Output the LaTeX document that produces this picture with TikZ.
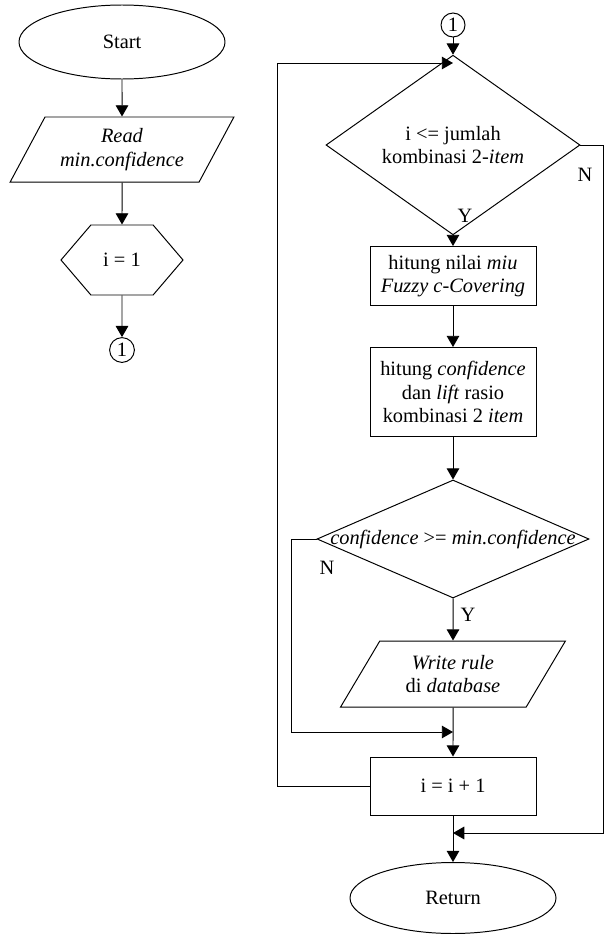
\documentclass[tikz,border=0pt]{standalone}
\usepackage{fontspec}
\setmainfont{Liberation Serif}
\usetikzlibrary{arrows.meta,shapes.geometric,shapes.symbols}
\tikzset{
	terminal/.style={draw, ellipse, minimum width=5.15cm, minimum height=1.85cm},
	io/.style={draw, trapezium, trapezium left angle=56, trapezium right angle=124, trapezium stretches=true, minimum width=5.6cm, minimum height=1.63cm, align=center, inner sep=0pt},
	prep/.style={draw, signal, signal to=west and east, signal pointer angle=99, minimum width=3.05cm, minimum height=1.75cm},
	process/.style={draw, rectangle, minimum width=4.15cm, align=center},
	decision/.style={draw, diamond, inner sep=0pt, align=center},
	connector/.style={draw, circle, inner sep=0pt, minimum size=0.62cm},
	flow/.style={-{Triangle[length=8pt, width=9pt]}}
}
\begin{document}
\begin{tikzpicture}[line width=0.7pt, font=\fontsize{14.5}{16.5}\selectfont]
	\useasboundingbox (0,0) rectangle (15.1,-23.35);
	% left column
	\node[terminal] at (3.05,-1.05) (start) {Start};
	\node[io] at (3.05,-3.74) (read-conf) {\textit{Read}\\\textit{min.confidence}};
	\node[prep] at (3.05,-6.5) (init-i) {i = 1};
	\node[connector] at (3.05,-8.75) (off-left) {1};

	\draw[flow] (start) -- (read-conf);
	\draw[flow] (read-conf) -- (init-i);
	\draw[flow] (init-i) -- (off-left);

	% right column
	\node[connector, minimum size=0.6cm] at (11.325,-0.625) (off-right) {1};
	\node[decision, minimum width=6.35cm, minimum height=3cm] at (11.325,-3.625) (cek-i) {i <= jumlah\\kombinasi 2-\textit{item}};
	\node[process, minimum height=1.475cm] at (11.325,-6.9) (hitung-miu) {hitung nilai \textit{miu}\\\textit{Fuzzy c-Covering}};
	\node[process, minimum height=2.225cm] at (11.325,-9.8) (hitung-conf) {hitung \textit{confidence}\\dan \textit{lift} rasio\\kombinasi 2 \textit{item}};
	\node[decision, minimum width=6.8cm, minimum height=2.95cm] at (11.325,-13.475) (cek-conf) {\makebox[0pt]{\textit{confidence} >= \textit{min.confidence}}};
	\node[io, minimum width=5.625cm, minimum height=1.65cm] at (11.325,-16.85) (write-rule) {\textit{Write rule}\\di \textit{database}};
	\node[process, minimum height=1.45cm] at (11.325,-19.65) (increment) {i = i + 1};
	\node[terminal, minimum height=1.775cm] at (11.325,-22.45) (return) {Return};

	\coordinate (loop-in) at (11.325,-1.575);
	\coordinate (skip-in) at (11.325,-18.3);
	\coordinate (exit-in) at (11.325,-20.825);

	\draw[flow] (off-right) -- (cek-i);
	\draw[flow] (cek-i) -- (hitung-miu);
	\draw[flow] (hitung-miu) -- (hitung-conf);
	\draw[flow] (hitung-conf) -- (cek-conf);
	\draw[flow] (cek-conf) -- (write-rule);
	\draw[flow] (write-rule) -- (increment);
	\draw[flow] (increment) -- (return);

	% loops and branches
	\draw[flow] (increment.west) -| (6.925,-1.575) -- (loop-in);
	\draw[flow] (cek-conf.west) -| (7.275,-18.3) -- (skip-in);
	\draw[flow] (cek-i.east) -| (15.075,-20.825) -- (exit-in);

	\node at (11.625,-5.4) (y-1) {Y};
	\node at (14.625,-4.375) (n-1) {N};
	\node at (11.7,-15.375) (y-2) {Y};
	\node at (8.175,-14.2) (n-2) {N};
\end{tikzpicture}
\end{document}
